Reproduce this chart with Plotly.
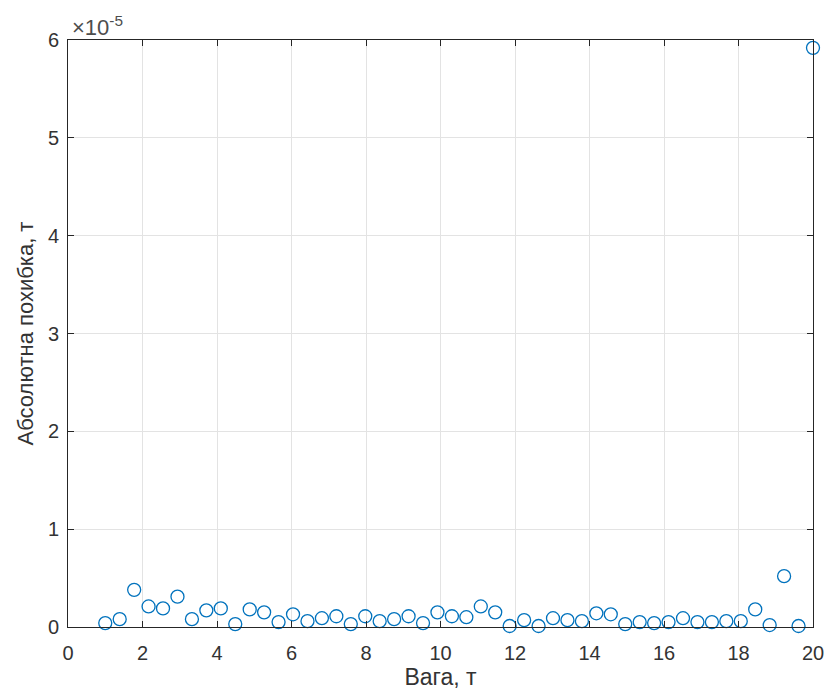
import plotly.graph_objects as go

# Data (x: weight, t; y: absolute error, t)
weights = [1.0, 1.388, 1.776, 2.163, 2.551, 2.939, 3.327, 3.714, 4.102, 4.490,
           4.878, 5.265, 5.653, 6.041, 6.429, 6.816, 7.204, 7.592, 7.980, 8.367,
           8.755, 9.143, 9.531, 9.918, 10.306, 10.694, 11.082, 11.469, 11.857, 12.245,
           12.633, 13.020, 13.408, 13.796, 14.184, 14.571, 14.959, 15.347, 15.735, 16.122,
           16.510, 16.898, 17.286, 17.673, 18.061, 18.449, 18.837, 19.224, 19.612, 20.0]
errors_e5 = [0.04, 0.08, 0.38, 0.21, 0.19, 0.31, 0.08, 0.17, 0.19, 0.03,
             0.18, 0.15, 0.05, 0.13, 0.06, 0.09, 0.11, 0.03, 0.11, 0.06,
             0.08, 0.11, 0.04, 0.15, 0.11, 0.10, 0.21, 0.15, 0.01, 0.07,
             0.01, 0.09, 0.07, 0.06, 0.14, 0.13, 0.03, 0.05, 0.04, 0.05,
             0.09, 0.05, 0.05, 0.06, 0.06, 0.18, 0.02, 0.52, 0.01, 5.92]
errors = [v * 1e-5 for v in errors_e5]

x_ticks = list(range(0, 21, 2))
y_tick_vals = [i * 1e-5 for i in range(7)]
y_tick_text = [str(i) for i in range(7)]

FONT = "Liberation Sans, Arial, Helvetica, sans-serif"
AX = "#262626"
TXT = "#333333"
TICK_SIZE = 20

fig = go.Figure()
fig.add_trace(go.Scatter(
    x=weights, y=errors, mode="markers",
    marker=dict(symbol="circle-open", size=13, color="#0072BD",
                line=dict(width=1.3, color="#0072BD")),
    cliponaxis=False, showlegend=False,
))

fig.update_layout(
    width=829, height=695,
    margin=dict(l=68, r=16, t=40, b=68, autoexpand=False),
    paper_bgcolor="white", plot_bgcolor="white",
    font=dict(family=FONT, color=TXT, size=TICK_SIZE),
    xaxis=dict(
        range=[0, 20], tickvals=x_ticks, ticks="inside", ticklen=6,
        tickcolor=AX, showline=True, linecolor=AX, linewidth=1, mirror="ticks",
        showgrid=True, gridcolor="#e3e3e3", gridwidth=1, zeroline=False,
        tickfont=dict(size=TICK_SIZE, color=TXT), automargin=False,
        ticklabelstandoff=8,
        title=dict(text="Вага, т", font=dict(size=23, color=TXT), standoff=5),
    ),
    yaxis=dict(
        range=[0, 6e-5], tickvals=y_tick_vals, ticktext=y_tick_text,
        ticks="inside", ticklen=6, tickcolor=AX, showline=True, linecolor=AX,
        linewidth=1, mirror="ticks", showgrid=True, gridcolor="#e3e3e3",
        gridwidth=1, zeroline=False, tickfont=dict(size=TICK_SIZE, color=TXT),
        automargin=False, ticklabelstandoff=4,
        title=dict(text="Абсолютна похибка, т", font=dict(size=22, color=TXT), standoff=8),
    ),
    annotations=[dict(
        text="×10<sup>-5</sup>", xref="paper", yref="paper", x=0, y=1,
        xanchor="left", yanchor="bottom", showarrow=False, xshift=2, yshift=-2,
        font=dict(size=22, color="#4d4d4d"),
    )],
)

fig.write_html("out.html", config={"displayModeBar": False},
               post_script="document.body.style.margin='0';")
